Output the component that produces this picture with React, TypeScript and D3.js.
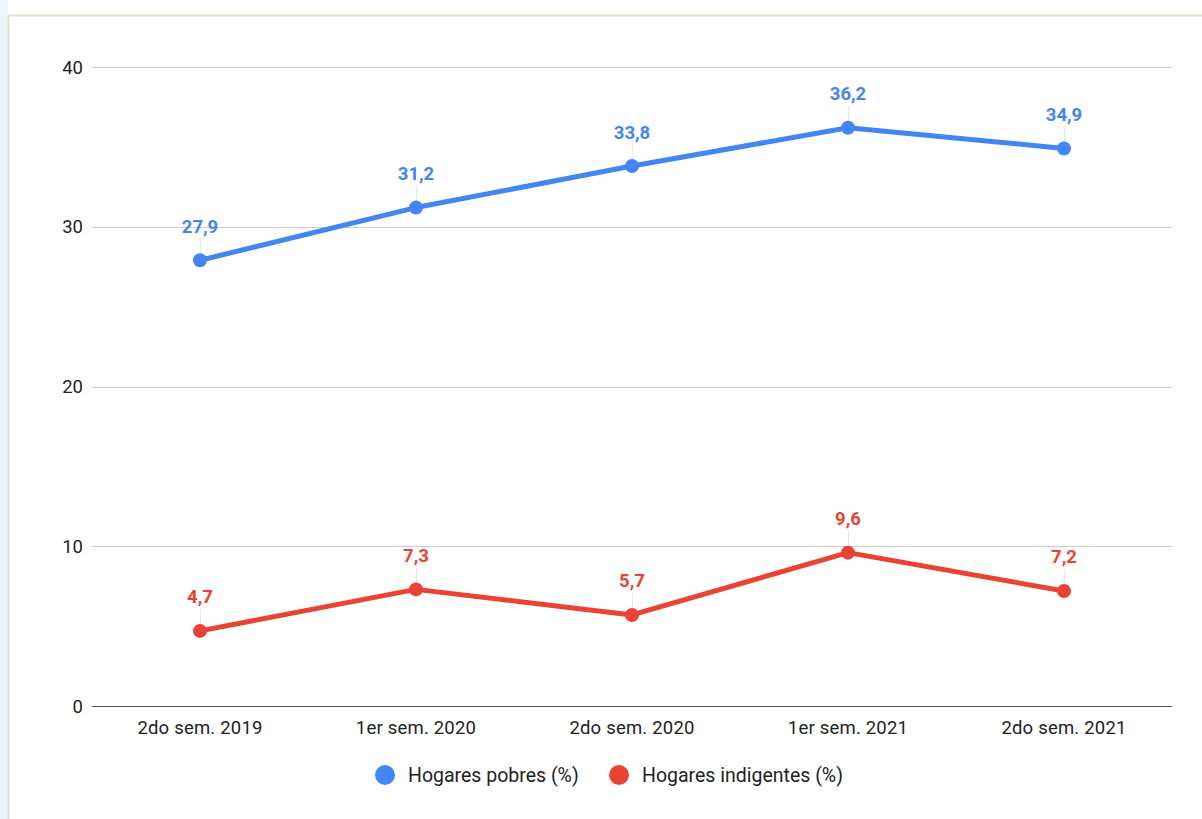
import React, { useEffect, useRef } from "react";
import * as d3 from "d3";

const categories = [
  "2do sem. 2019",
  "1er sem. 2020",
  "2do sem. 2020",
  "1er sem. 2021",
  "2do sem. 2021",
];
const pobres = [27.9, 31.2, 33.8, 36.2, 34.9];
const indigentes = [4.7, 7.3, 5.7, 9.6, 7.2];
const yTicks = [0, 10, 20, 30, 40];

const series = [
  { name: "Hogares pobres (%)", values: pobres, color: "#4285f4" },
  { name: "Hogares indigentes (%)", values: indigentes, color: "#ea4335" },
];

const W = 1202;
const H = 819;
const margin = { left: 92, right: 30, top: 67, bottom: 113 };
const font = "Roboto, 'Noto Sans', sans-serif";

const App = () => {
  const ref = useRef<SVGSVGElement>(null);

  useEffect(() => {
    const svg = d3.select(ref.current);
    svg.selectAll("*").remove();

    // page frame
    svg.append("rect").attr("x", 0).attr("y", 0).attr("width", 8).attr("height", H).attr("fill", "#eef4fb");
    svg.append("rect").attr("x", 8).attr("y", 0).attr("width", W - 8).attr("height", H).attr("fill", "#fff");
    svg.append("line").attr("x1", 8.5).attr("x2", 8.5).attr("y1", 15).attr("y2", H).attr("stroke", "#e3dfcc").attr("stroke-width", 2);
    svg.append("line").attr("x1", 8).attr("x2", W).attr("y1", 15.5).attr("y2", 15.5).attr("stroke", "#e3dfcc").attr("stroke-width", 2);

    const x = d3
      .scaleBand()
      .domain(categories)
      .range([margin.left, W - margin.right]);
    const y = d3
      .scaleLinear()
      .domain([0, 40])
      .range([H - margin.bottom, margin.top]);

    // gridlines
    svg
      .append("g")
      .selectAll("line")
      .data(yTicks.filter((t) => t > 0))
      .enter()
      .append("line")
      .attr("x1", margin.left)
      .attr("x2", W - margin.right)
      .attr("y1", (d) => Math.round(y(d)) + 0.5)
      .attr("y2", (d) => Math.round(y(d)) + 0.5)
      .attr("stroke", "#cccccc");

    svg
      .append("line")
      .attr("x1", margin.left)
      .attr("x2", W - margin.right)
      .attr("y1", Math.round(y(0)) + 0.5)
      .attr("y2", Math.round(y(0)) + 0.5)
      .attr("stroke", "#555")
      .attr("stroke-width", 1.2);

    // y tick labels
    svg
      .append("g")
      .selectAll("text")
      .data(yTicks)
      .enter()
      .append("text")
      .text((d) => d)
      .attr("x", margin.left - 9)
      .attr("y", (d) => y(d) + 6.5)
      .attr("text-anchor", "end")
      .attr("font-family", font)
      .attr("font-size", 18.5)
      .attr("fill", "#222");

    // x tick labels
    svg
      .append("g")
      .selectAll("text")
      .data(categories)
      .enter()
      .append("text")
      .text((d) => d)
      .attr("x", (d) => x(d)! + x.bandwidth() / 2)
      .attr("y", y(0) + 28)
      .attr("text-anchor", "middle")
      .attr("font-family", font)
      .attr("font-size", 18.5)
      .attr("letter-spacing", 0.2)
      .attr("fill", "#222");

    const cx = (i: number) => x(categories[i])! + x.bandwidth() / 2;

    series.forEach((s) => {
      const g = svg.append("g");
      const line = d3
        .line<number>()
        .x((d, i) => cx(i))
        .y((d) => y(d));
      g.append("path")
        .datum(s.values)
        .attr("d", line)
        .attr("fill", "none")
        .attr("stroke", s.color)
        .attr("stroke-width", 5)
        .attr("stroke-linejoin", "round");

      // leader lines
      g.selectAll("line.leader")
        .data(s.values)
        .enter()
        .append("line")
        .attr("class", "leader")
        .attr("x1", (d, i) => cx(i) + 0.5)
        .attr("x2", (d, i) => cx(i) + 0.5)
        .attr("y1", (d) => y(d) - 22)
        .attr("y2", (d) => y(d) - 6)
        .attr("stroke", "#e6e6e6")
        .attr("stroke-width", 1);

      g.selectAll("circle")
        .data(s.values)
        .enter()
        .append("circle")
        .attr("cx", (d, i) => cx(i))
        .attr("cy", (d) => y(d))
        .attr("r", 7)
        .attr("fill", s.color);

      g.selectAll("text")
        .data(s.values)
        .enter()
        .append("text")
        .text((d) => d.toFixed(1).replace(".", ","))
        .attr("x", (d, i) => cx(i))
        .attr("y", (d) => y(d) - 27.5)
        .attr("text-anchor", "middle")
        .attr("font-family", font)
        .attr("font-size", 18.5)
        .attr("font-weight", "bold")
        .attr("fill", s.color);
    });

    // legend
    const legendX = [385, 619];
    const lg = svg.append("g");
    series.forEach((s, i) => {
      lg.append("circle")
        .attr("cx", legendX[i])
        .attr("cy", 775)
        .attr("r", 10)
        .attr("fill", s.color);
      lg.append("text")
        .text(s.name)
        .attr("x", legendX[i] + 23)
        .attr("y", 782)
        .attr("font-family", font)
        .attr("font-size", 19.5)
        .attr("fill", "#222");
    });
  }, []);

  return (
    <svg
      ref={ref}
      width={W}
      height={H}
      style={{ position: "absolute", left: 0, top: 0, display: "block" }}
    ></svg>
  );
};

export default App;
